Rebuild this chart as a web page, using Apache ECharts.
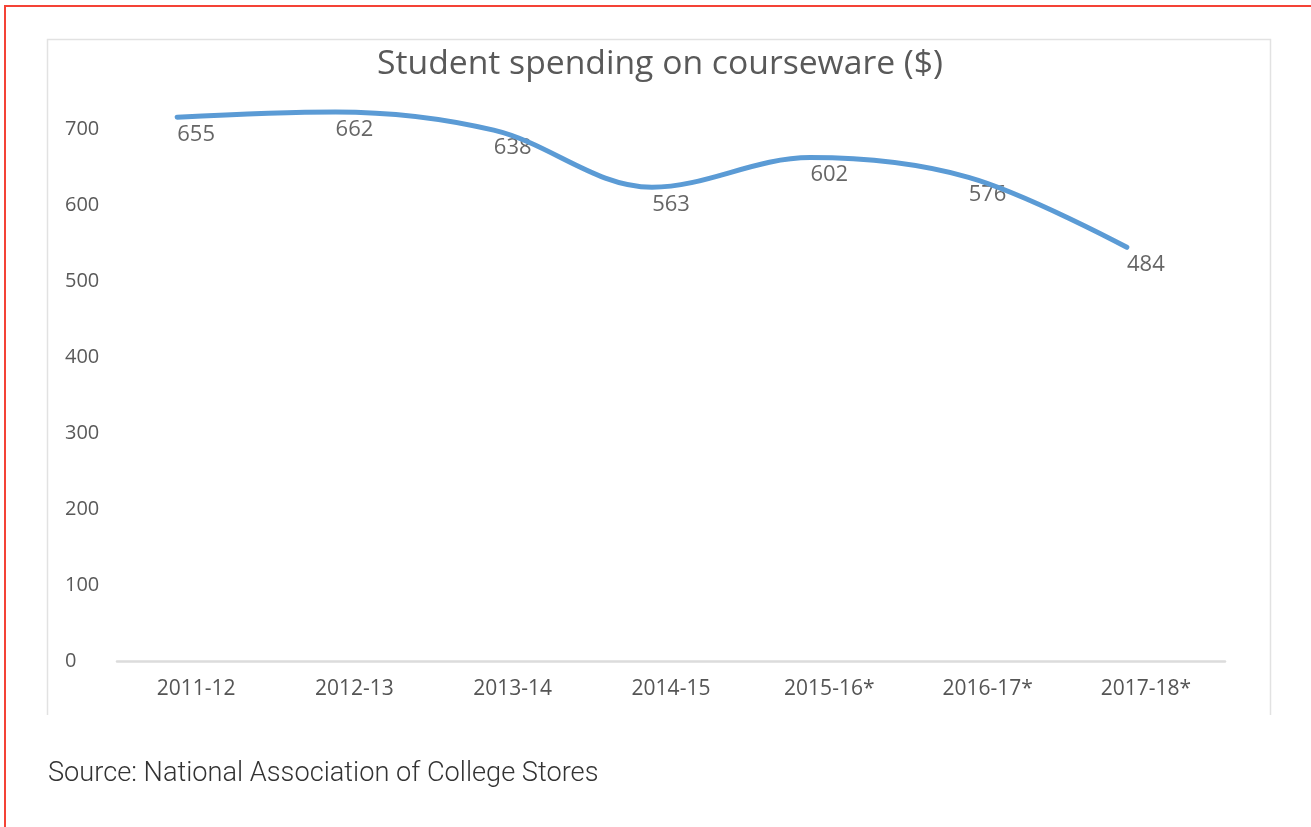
<!DOCTYPE html>
<html>
<head>
<meta charset="utf-8">
<script src="https://cdn.jsdelivr.net/npm/echarts@6/dist/echarts.min.js"></script>
<style>
  html, body { margin: 0; padding: 0; background: #ffffff; }
  #main { width: 1311px; height: 827px; }
</style>
</head>
<body>
<div id="main"></div>
<script>
// data
var years = ["2011-12", "2012-13", "2013-14", "2014-15", "2015-16*", "2016-17*", "2017-18*"];
var spending = [655, 662, 638, 563, 602, 576, 484];
var yTicks = [0, 100, 200, 300, 400, 500, 600, 700];

var chart = echarts.init(document.getElementById("main"));

var labelFont = "'Open Sans', 'DejaVu Sans', sans-serif";

chart.setOption({
  backgroundColor: "#ffffff",
  animation: false,
  title: [
    {
      text: "Student spending on courseware ($)",
      left: 655,
      top: 42,
      textAlign: "center",
      textStyle: {
        color: "#595959",
        fontFamily: labelFont,
        fontWeight: "normal",
        fontSize: 33.7
      }
    },
    {
      text: "Source: National Association of College Stores",
      left: 43,
      top: 756,
      textStyle: {
        color: "#333333",
        fontFamily: "Roboto, sans-serif",
        fontWeight: 300,
        fontSize: 27.2
      }
    }
  ],
  // page borders and the chart frame
  graphic: [
    {
      type: "line",
      shape: { x1: 5, y1: 6, x2: 5, y2: 827 },
      style: { stroke: "#f44336", lineWidth: 2 }
    },
    {
      type: "line",
      shape: { x1: 4, y1: 6, x2: 1311, y2: 6 },
      style: { stroke: "#f44336", lineWidth: 2 }
    },
    {
      type: "polyline",
      shape: { points: [[47.5, 715], [47.5, 39.5], [1270.5, 39.5], [1270.5, 715]] },
      style: { stroke: "#e2e2e2", lineWidth: 1.5, fill: null }
    }
  ],
  grid: [
    // axes and data labels
    { left: 117, right: 86, top: 129, bottom: 165.5 },
    // the line itself sits a little up and left of its labels in the picture
    { left: 98, right: 105, top: 83, bottom: 211.5 }
  ],
  xAxis: [
    {
      type: "category",
      gridIndex: 0,
      data: years,
      boundaryGap: true,
      axisLine: { show: true, lineStyle: { color: "#dcdcdc", width: 2.5 } },
      axisTick: { show: false },
      axisLabel: {
        color: "#555555",
        fontFamily: labelFont,
        fontSize: 21,
        margin: 17
      },
      splitLine: { show: false }
    },
    {
      type: "category",
      gridIndex: 1,
      data: years,
      boundaryGap: true,
      show: false
    }
  ],
  yAxis: [
    {
      type: "value",
      gridIndex: 0,
      min: yTicks[0],
      max: yTicks[yTicks.length - 1],
      interval: 100,
      axisLine: { show: false },
      axisTick: { show: false },
      splitLine: { show: false },
      axisLabel: {
        color: "#595959",
        fontFamily: labelFont,
        fontSize: 20,
        align: "left",
        margin: 52
      }
    },
    {
      type: "value",
      gridIndex: 1,
      min: yTicks[0],
      max: yTicks[yTicks.length - 1],
      interval: 100,
      show: false
    }
  ],
  series: [
    {
      name: "Spending",
      type: "line",
      xAxisIndex: 1,
      yAxisIndex: 1,
      data: spending,
      smooth: 0.35,
      symbol: "none",
      lineStyle: { color: "#5b9bd5", width: 5, cap: "round" },
      silent: true
    },
    {
      name: "Labels",
      type: "scatter",
      xAxisIndex: 0,
      yAxisIndex: 0,
      data: spending,
      symbolSize: 1,
      itemStyle: { color: "rgba(0,0,0,0)" },
      label: {
        show: true,
        position: "top",
        distance: 17,
        color: "#404040",
        fontFamily: labelFont,
        fontSize: 22
      },
      silent: true
    }
  ]
});

window.onresize = function() {
  chart.resize();
};
</script>
</body>
</html>
